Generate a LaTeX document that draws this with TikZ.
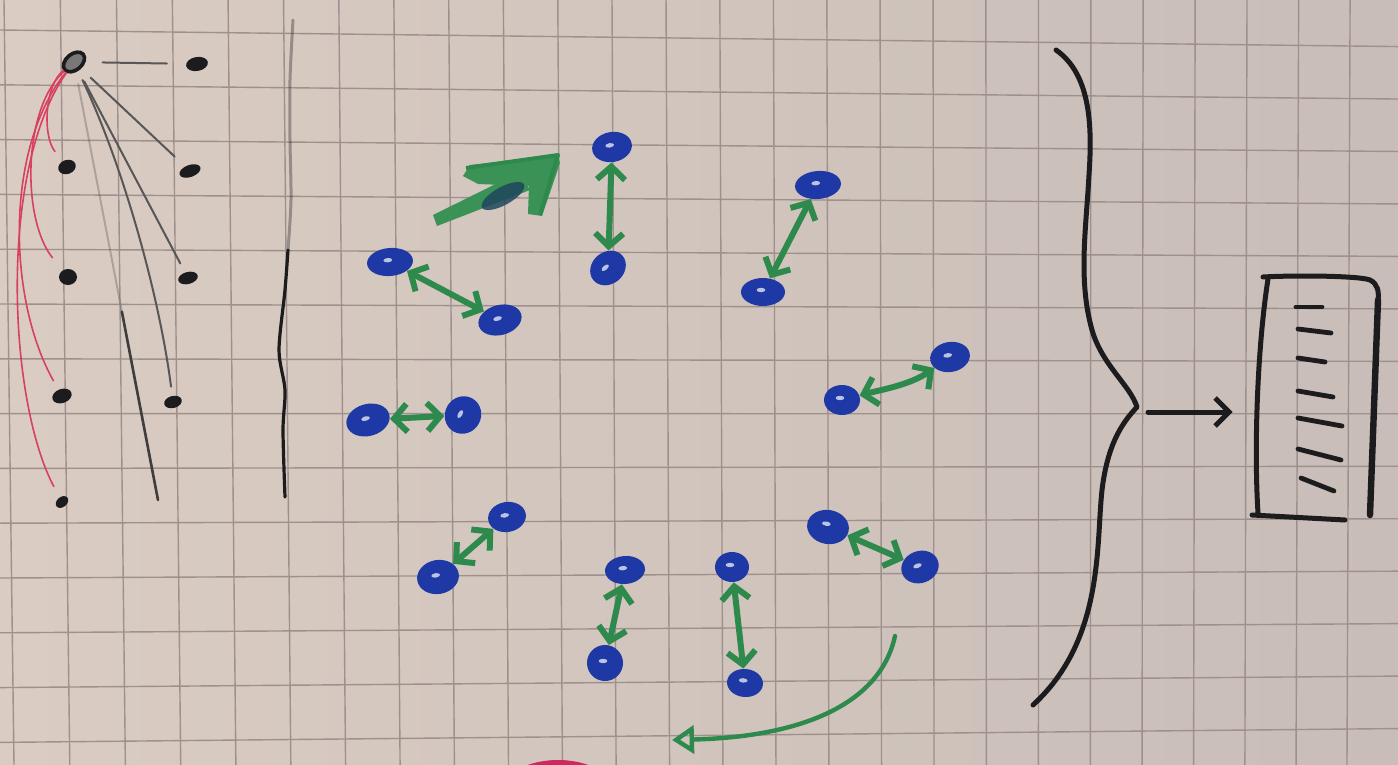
\documentclass[tikz,border=0pt]{standalone}
\usetikzlibrary{arrows.meta,shapes.geometric,calc}
\definecolor{paperL}{RGB}{218,204,194}
\definecolor{paperR}{RGB}{200,189,184}
\definecolor{gridc}{RGB}{158,144,140}
\definecolor{ink}{RGB}{28,28,30}
\definecolor{pencil}{RGB}{88,86,86}
\definecolor{mred}{RGB}{216,64,96}
\definecolor{mgreen}{RGB}{46,138,76}
\definecolor{mgreenL}{RGB}{58,146,86}
\definecolor{mblue}{RGB}{30,56,165}
\definecolor{smudgec}{RGB}{32,70,92}
\definecolor{mmag}{RGB}{205,40,95}
\begin{document}
\begin{tikzpicture}[x=0.5pt,y=-0.5pt,
  gridline/.style={draw=gridc, line width=0.7pt},
  bdot/.style={ellipse, fill=mblue, inner sep=0pt,
    path picture={\fill[white,opacity=.7] ($(path picture bounding box.center)+(-2,-2)$) ellipse (2.2pt and 1.1pt);}},
  kdot/.style={ellipse, fill=ink, inner sep=0pt},
  hubdot/.style={ellipse, draw=ink, line width=1.8pt, fill=pencil!80, inner sep=0pt, minimum width=12pt, minimum height=8pt, rotate=40},
  garrow/.style={draw=mgreen, line width=3pt, line cap=round, line join=round,
    {Straight Barb[length=6.5pt,width=14pt]}-{Straight Barb[length=6.5pt,width=14pt]}},
  gline/.style={draw=pencil, line width=1pt, line cap=round},
  rline/.style={draw=mred, line width=0.8pt, line cap=round},
  inkline/.style={draw=ink, line width=2.5pt, line cap=round, line join=round},
  tick/.style={draw=ink, line width=2.4pt, line cap=round}
]
\useasboundingbox (0,0) rectangle (1398,765);
\begin{scope}
\clip (0,0) rectangle (1398,765);
\shade[left color=paperL, right color=paperR] (0,0) rectangle (1398,765);
% grid
\foreach \i in {0,...,25}{
  \pgfmathsetmacro\xt{(56.46*\i+4)/(0.00194*\i+1)}
  \pgfmathsetmacro\xb{(55.93*\i+14)/(0.00194*\i+1)}
  \draw[gridline] (\xt,0) -- (\xb,765);
}
\foreach \j in {0,...,13}{
  \pgfmathsetmacro\yl{30+54.8*\j}
  \pgfmathsetmacro\yr{\yl+(16-2.26*\j)*1.0356}
  \draw[gridline] (0,\yl) -- (1398,\yr);
}
% magenta blob at the bottom edge
\fill[mmag] (558,802) ellipse (64 and 42);
\end{scope}

% ---------- left panel ----------
\node[hubdot] (hub) at (74,62) {};
\node[kdot, minimum width=11pt, minimum height=7pt, rotate=10] (p1) at (197,64) {};
\node[kdot, minimum width=9pt, minimum height=7pt, rotate=20] (q1) at (67,167) {};
\node[kdot, minimum width=11pt, minimum height=6pt, rotate=20] (p2) at (190,171) {};
\node[kdot, minimum width=9pt, minimum height=8pt, rotate=0] (q2) at (68,277) {};
\node[kdot, minimum width=10pt, minimum height=6pt, rotate=15] (p3) at (188,278) {};
\node[kdot, minimum width=10pt, minimum height=7pt, rotate=20] (q3) at (62,396) {};
\node[kdot, minimum width=9pt, minimum height=6pt, rotate=15] (p4) at (173,402) {};
\node[kdot, minimum width=7pt, minimum height=5pt, rotate=40] (q4) at (62,502) {};
\coordinate (pend) at (158,500);

% pencil lines
\draw[gline, shorten <=8.5pt, shorten >=9.5pt] (hub) -- (p1);
\draw[gline, shorten <=6.5pt, shorten >=7pt] (hub) -- (p2);
\draw[gline, shorten <=6pt, shorten >=5pt] (hub) -- (p3);
\draw[gline, shorten <=5pt, shorten >=4.5pt] (hub) .. controls (125,170) and (160,300) .. (p4);
\draw[gline, opacity=.35, shorten <=6pt] (hub) -- (pend);
\draw[draw=ink!85, line width=1.3pt, line cap=round] ($(hub)!0.57!(pend)$) -- (pend);

% red curves
\draw[rline, shorten >=6pt] (hub) .. controls (45,85) and (42,135) .. (q1);
\draw[rline, shorten >=8pt] (hub) .. controls (22,110) and (22,220) .. (q2);
\draw[rline, shorten >=5pt] (hub) .. controls (4,150) and (8,300) .. (q3);
\draw[rline, shorten >=6pt] (hub) .. controls (-2,170) and (8,400) .. (q4);

% wavy separator
\draw[draw=ink, line width=1.5pt, opacity=.35, line cap=round]
  plot[smooth] coordinates {(293,20) (290,80) (290,140) (291,200) (288,250)};
\draw[draw=ink, line width=1.6pt, line cap=round]
  plot[smooth] coordinates {(288,250) (285,290) (279,350) (285,390) (283,430) (285,497)};

% ---------- middle: pairs ----------
\node[bdot, minimum width=23pt, minimum height=14pt, rotate=5]  (A) at (390,262) {};
\node[bdot, minimum width=22pt, minimum height=15pt, rotate=15] (B) at (500,320) {};
\node[bdot, minimum width=20pt, minimum height=15pt, rotate=10] (C) at (612,147) {};
\node[bdot, minimum width=19pt, minimum height=16pt, rotate=40] (D) at (608,268) {};
\node[bdot, minimum width=23pt, minimum height=14pt, rotate=5]  (E) at (818,185) {};
\node[bdot, minimum width=22pt, minimum height=14pt, rotate=0]  (F) at (763,292) {};
\node[bdot, minimum width=22pt, minimum height=16pt, rotate=15] (G) at (368,420) {};
\node[bdot, minimum width=19pt, minimum height=18pt, rotate=60] (H) at (463,415) {};
\node[bdot, minimum width=20pt, minimum height=15pt, rotate=10] (I) at (950,357) {};
\node[bdot, minimum width=18pt, minimum height=15pt, rotate=0]  (J) at (842,400) {};
\node[bdot, minimum width=19pt, minimum height=15pt, rotate=10] (K) at (507,517) {};
\node[bdot, minimum width=21pt, minimum height=17pt, rotate=10] (L) at (438,577) {};
\node[bdot, minimum width=20pt, minimum height=14pt, rotate=5]  (M) at (625,570) {};
\node[bdot, minimum width=18pt, minimum height=18pt, rotate=0]  (N) at (605,663) {};
\node[bdot, minimum width=17pt, minimum height=15pt, rotate=0]  (O) at (732,567) {};
\node[bdot, minimum width=18pt, minimum height=14pt, rotate=-5] (P) at (745,683) {};
\node[bdot, minimum width=21pt, minimum height=17pt, rotate=-10] (Q) at (828,527) {};
\node[bdot, minimum width=19pt, minimum height=16pt, rotate=20] (R) at (920,567) {};

\draw[garrow] (A) -- (B);
\draw[garrow] (C) -- (D);
\draw[garrow] (E) -- (F);
\draw[garrow] (G) -- (H);
\draw[garrow] (I) .. controls (910,385) and (880,390) .. (J);
\draw[garrow] (K) -- (L);
\draw[garrow] (M) -- (N);
\draw[garrow] (O) -- (P);
\draw[garrow] (Q) -- (R);

% big arrow
\coordinate (bigS) at (437,226);
\coordinate (bigT) at (558,155);
\fill[mgreenL] (bigS) -- (433,215) -- (520,172) -- (530,190) -- cycle;
\fill[mgreenL] (463,176) -- (470,165) -- (bigT) -- (560,163) -- (542,216) -- (528,214) -- (529,186) -- (478,184) -- cycle;
\draw[draw=mgreen, line width=2pt, line join=round] (466,168) -- (bigT) -- (540,215);
\node[ellipse, fill=smudgec, opacity=.85, minimum width=24pt, minimum height=9pt, inner sep=0pt, rotate=29] (sm) at (503,196) {};

% curved arrow
\coordinate (cs) at (895,636);
\coordinate (ce) at (672,740);
\draw[draw=mgreen, line width=2.2pt, line cap=round, -{Triangle[open,length=11pt,width=14pt]}]
  (cs) .. controls (880,705) and (800,737) .. (ce);

% ---------- right: brace, arrow, box ----------
\draw[inkline]
  (1056,50) .. controls (1092,75) and (1092,130) .. (1089,175)
  .. controls (1086,230) and (1078,280) .. (1092,330)
  .. controls (1102,365) and (1130,385) .. (1137,407)
  .. controls (1125,420) and (1108,440) .. (1102,490)
  .. controls (1096,545) and (1104,640) .. (1033,705);

\node[inner sep=0pt, minimum width=60pt, minimum height=120pt] (box) at (1316,398) {};
\coordinate (bt) at (1148,412);
\draw[inkline, shorten >=11.5pt, -{Straight Barb[length=7pt,width=14pt]}] (bt) -- (bt -| box.west);

\draw[inkline] (1268,279) .. controls (1257,350) and (1254,450) .. (1258,513);
\draw[inkline] (1263,277) .. controls (1300,275) and (1360,276) .. (1370,280) .. controls (1378,284) and (1379,292) .. (1378,300);
\draw[draw=ink, line width=3.2pt, line cap=round] (1378,300) -- (1370,515);
\draw[inkline] (1252,515) -- (1345,520);
\draw[tick] (1296,307) -- (1322,307);
\draw[tick] (1298,329) -- (1331,333);
\draw[tick] (1298,358) -- (1325,362);
\draw[tick] (1298,391) -- (1333,397);
\draw[tick] (1298,418) -- (1342,426);
\draw[tick] (1298,449) -- (1341,460);
\draw[tick] (1301,478) -- (1334,491);
\end{tikzpicture}
\end{document}
